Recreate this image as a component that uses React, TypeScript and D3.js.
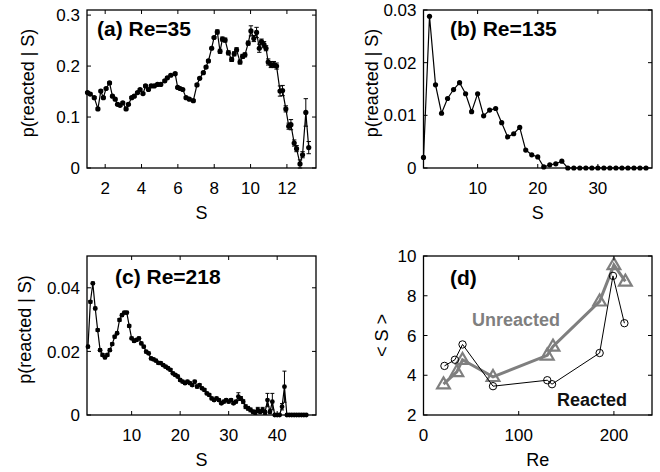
import React from 'react';
import * as d3 from 'd3';

const FONT = '"Liberation Sans", Arial, Helvetica, sans-serif';

// ---------- Panel (a) Re=35 ----------
const S_A = [1.03,1.18,1.40,1.60,1.76,1.90,2.05,2.24,2.40,2.55,2.68,2.82,2.97,3.15,3.28,3.46,3.60,3.78,3.92,4.08,4.22,4.38,4.53,4.70,4.88,5.06,5.28,5.42,5.61,5.85,5.99,6.12,6.27,6.45,6.63,6.85,7.05,7.20,7.40,7.55,7.68,7.86,7.99,8.17,8.32,8.45,8.60,8.78,8.96,9.10,9.23,9.42,9.56,9.69,9.87,10.02,10.18,10.33,10.48,10.60,10.74,10.85,10.97,11.12,11.28,11.43,11.62,11.76,11.94,12.10,12.22,12.40,12.53,12.72,12.86,13.04,13.20];
const P_A = [0.148,0.145,0.138,0.116,0.151,0.138,0.156,0.167,0.141,0.135,0.125,0.123,0.128,0.116,0.125,0.138,0.141,0.148,0.154,0.146,0.161,0.154,0.161,0.161,0.164,0.164,0.171,0.177,0.182,0.185,0.158,0.156,0.154,0.138,0.135,0.132,0.163,0.176,0.187,0.198,0.210,0.235,0.256,0.267,0.229,0.253,0.251,0.226,0.213,0.224,0.232,0.208,0.219,0.222,0.245,0.269,0.254,0.266,0.235,0.248,0.242,0.235,0.208,0.203,0.203,0.200,0.151,0.152,0.116,0.082,0.085,0.049,0.038,0.008,0.026,0.109,0.040];
const E_A = [0.002,0.002,0.002,0.002,0.002,0.002,0.002,0.002,0.002,0.002,0.002,0.002,0.002,0.002,0.002,0.002,0.002,0.002,0.002,0.002,0.002,0.002,0.002,0.002,0.002,0.002,0.002,0.002,0.002,0.002,0.002,0.002,0.002,0.002,0.002,0.002,0.002,0.002,0.002,0.002,0.002,0.002,0.002,0.004,0.004,0.004,0.004,0.004,0.004,0.004,0.004,0.004,0.004,0.004,0.004,0.010,0.006,0.010,0.008,0.005,0.006,0.005,0.006,0.006,0.006,0.006,0.010,0.010,0.006,0.006,0.010,0.006,0.006,0.008,0.006,0.027,0.012];
const XT_A = [2, 4, 6, 8, 10, 12];
const YT_A = [0, 0.1, 0.2, 0.3];
const YL_A = ['0', '0.1', '0.2', '0.3'];

// ---------- Panel (b) Re=135 ----------
const S_B = [1,2,3,4,5,6,7,8,9,10,11,12,13,14,15,16,17,18,19,20,21,22,23,24,25,26,27,28,29,30,31,32,33,34,35,36,37,38];
const P_B = [0.002,0.0288,0.0158,0.0104,0.0132,0.0149,0.0162,0.0141,0.0107,0.0141,0.0099,0.0110,0.0113,0.0086,0.0059,0.0065,0.0077,0.0034,0.0025,0.0021,0.0002,0.0006,0.0008,0.0013,0,0,0,0,0,0,0,0,0,0,0,0,0,0];
const XT_B = [10, 20, 30];
const YT_B = [0, 0.01, 0.02, 0.03];
const YL_B = ['0', '0.01', '0.02', '0.03'];

// ---------- Panel (c) Re=218 ----------
const S_C = [1,1.5,2,2.5,3,3.5,4,4.5,5,5.5,6,6.5,7,7.5,8,8.5,9,9.5,10,10.5,11,11.5,12,12.5,13,13.5,14,14.5,15,15.5,16,16.5,17,17.5,18,18.5,19,19.5,20,20.5,21,21.5,22,22.5,23,23.5,24,24.5,25,25.5,26,26.5,27,27.5,28,28.5,29,29.5,30,30.5,31,31.5,32,32.5,33,33.5,34,34.5,35,35.5,36,36.5,37,37.5,38,38.5,39,39.5,40,40.5,41,41.5,42,42.5,43,43.5,44,44.5,45,45.5,46];
const P_C = [0.0215,0.0356,0.0414,0.0335,0.0267,0.0204,0.0189,0.0181,0.0189,0.0204,0.0223,0.0246,0.0257,0.0299,0.0314,0.0322,0.0322,0.0280,0.0241,0.0233,0.0236,0.0241,0.0225,0.0215,0.0199,0.0194,0.0178,0.0175,0.0171,0.0164,0.0163,0.0157,0.0152,0.0147,0.0142,0.0131,0.0126,0.0121,0.0110,0.0105,0.0100,0.0105,0.0100,0.0094,0.0105,0.0089,0.0094,0.0084,0.0079,0.0068,0.0063,0.0052,0.0047,0.0052,0.0047,0.0037,0.0042,0.0047,0.0042,0.0047,0.0037,0.0042,0.0058,0.0052,0.0042,0.0026,0.0021,0.0016,0.0010,0.0008,0.0016,0.0010,0.0016,0.0008,0.0047,0.0010,0.0042,0,0,0,0.0026,0.0089,0,0,0,0,0,0,0,0,0];
const E_C = [0.0004,0.0004,0.0004,0.0004,0.0004,0.0004,0.0004,0.0004,0.0004,0.0004,0.0004,0.0004,0.0004,0.0004,0.0004,0.0004,0.0004,0.0004,0.0004,0.0004,0.0004,0.0004,0.0004,0.0004,0.0004,0.0004,0.0004,0.0004,0.0004,0.0004,0.0004,0.0004,0.0004,0.0004,0.0004,0.0004,0.0004,0.0004,0.0004,0.0004,0.0004,0.0004,0.0004,0.0004,0.0004,0.0004,0.0004,0.0004,0.0004,0.0004,0.0004,0.0004,0.0004,0.0004,0.0004,0.0004,0.0004,0.0004,0.0004,0.0004,0.0004,0.0004,0.0012,0.0006,0.0006,0.0006,0.0006,0.0006,0.0006,0.0006,0.0008,0.0006,0.0008,0.0006,0.0021,0.0006,0.0026,0,0,0,0.0010,0.0049,0,0,0,0,0,0,0,0,0];
const XT_C = [10, 20, 30, 40];
const YT_C = [0, 0.02, 0.04];
const YL_C = ['0', '0.02', '0.04'];

// ---------- Panel (d) ----------
const RE_REACTED = [22, 33, 41, 73, 130, 135, 185, 199, 211];
const S_REACTED = [4.47, 4.78, 5.55, 3.45, 3.75, 3.55, 5.12, 9.0, 6.62];
const RE_UNREACTED = [21, 35, 41, 73, 130, 136, 185, 200, 212];
const S_UNREACTED = [3.55, 4.17, 4.78, 3.92, 5.0, 5.45, 7.72, 9.55, 8.72];
const XT_D = [0, 100, 200];
const YT_D = [2, 4, 6, 8, 10];

const GRAY = '#7f7f7f';

type Sc = d3.ScaleLinear<number, number>;

function Frame(props: {
  xs: Sc; ys: Sc; xTicks: number[]; xLabels: string[]; yTicks: number[]; yLabels: string[];
  xTitle: string; yTitle: string; yTitleX: number; yTitleDy?: number;
}) {
  const { xs, ys, xTicks, xLabels, yTicks, yLabels, xTitle, yTitle, yTitleX, yTitleDy = 0 } = props;
  const [x0, x1] = xs.range();
  const [y1, y0] = ys.range();
  const tl = 4;
  const cx = (x0 + x1) / 2;
  const cy = (y0 + y1) / 2 + yTitleDy;
  return (
    <g fontFamily={FONT} fontSize={17} fill="#000">
      {xTicks.map((t, i) => {
        const x = xs(t);
        return (
          <g key={'x' + i}>
            <line x1={x} x2={x} y1={y1} y2={y1 - tl} stroke="#000" strokeWidth={1} />
            <line x1={x} x2={x} y1={y0} y2={y0 + tl} stroke="#000" strokeWidth={1} />
            <text x={x} y={y1 + 26} textAnchor="middle">{xLabels[i]}</text>
          </g>
        );
      })}
      {yTicks.map((t, i) => {
        const y = ys(t);
        return (
          <g key={'y' + i}>
            <line x1={x0} x2={x0 + tl} y1={y} y2={y} stroke="#000" strokeWidth={1} />
            <line x1={x1} x2={x1 - tl} y1={y} y2={y} stroke="#000" strokeWidth={1} />
            <text x={x0 - 7} y={y} dy="0.36em" textAnchor="end">{yLabels[i]}</text>
          </g>
        );
      })}
      <rect x={x0} y={y0} width={x1 - x0} height={y1 - y0} fill="none" stroke="#000" strokeWidth={1.3} />
      <text x={cx} y={y1 + 51} textAnchor="middle" fontSize={18}>{xTitle}</text>
      <text transform={`translate(${yTitleX},${cy}) rotate(-90)`} textAnchor="middle" fontSize={18}>{yTitle}</text>
    </g>
  );
}

function Series(props: { xs: Sc; ys: Sc; sx: number[]; sy: number[]; err?: number[]; r: number; cap: number }) {
  const { xs, ys, sx, sy, err, r, cap } = props;
  const pts = sx.map((s, i) => [s, sy[i]] as [number, number]);
  const line = d3.line<[number, number]>().x(d => xs(d[0])).y(d => ys(d[1]));
  return (
    <g>
      <path d={line(pts) || ''} fill="none" stroke="#000" strokeWidth={1.2} />
      {err && pts.map((p, i) => {
        const e = err[i];
        if (!e) return null;
        const x = xs(p[0]);
        const ya = ys(p[1] + e);
        const yb = ys(Math.max(0, p[1] - e));
        return (
          <g key={'e' + i} stroke="#000" strokeWidth={1}>
            <line x1={x} x2={x} y1={ya} y2={yb} />
            <line x1={x - cap} x2={x + cap} y1={ya} y2={ya} />
            <line x1={x - cap} x2={x + cap} y1={yb} y2={yb} />
          </g>
        );
      })}
      {pts.map((p, i) => (
        <circle key={'m' + i} cx={xs(p[0])} cy={ys(p[1])} r={r} fill="#000" />
      ))}
    </g>
  );
}

const LX0 = 87, LX1 = 316, RX0 = 423.5, RX1 = 652;
const TY0 = 10, TY1 = 168, BY0 = 256, BY1 = 415;

export default function App() {
  const xa = d3.scaleLinear().domain([1, 13.6]).range([LX0, LX1]);
  const ya = d3.scaleLinear().domain([0, 0.31]).range([TY1, TY0]);
  const xb = d3.scaleLinear().domain([1, 39]).range([RX0, RX1]);
  const yb = d3.scaleLinear().domain([0, 0.03]).range([TY1, TY0]);
  const xc = d3.scaleLinear().domain([0.8, 48]).range([LX0, LX1]);
  const yc = d3.scaleLinear().domain([0, 0.05]).range([BY1, BY0]);
  const xd = d3.scaleLinear().domain([0, 240]).range([RX0, RX1]);
  const yd = d3.scaleLinear().domain([2, 10]).range([BY1, BY0]);

  const lineD = d3.line<[number, number]>().x(d => xd(d[0])).y(d => yd(d[1]));
  const unr = RE_UNREACTED.map((r, i) => [r, S_UNREACTED[i]] as [number, number]);
  const rea = RE_REACTED.map((r, i) => [r, S_REACTED[i]] as [number, number]);
  const tri = (x: number, y: number, s: number) =>
    `M${x},${y - s * 0.62}L${x + s * 0.58},${y + s * 0.38}L${x - s * 0.58},${y + s * 0.38}Z`;

  return (
    <svg width={660} height={472} style={{ position: 'absolute', left: 0, top: 0, background: '#fff' }}
      fontFamily={FONT}>
      <rect x={0} y={0} width={660} height={472} fill="#fff" />

      {/* (a) */}
      <Series xs={xa} ys={ya} sx={S_A} sy={P_A} err={E_A} r={2.6} cap={2.2} />
      <Frame xs={xa} ys={ya} xTicks={XT_A} xLabels={XT_A.map(String)} yTicks={YT_A} yLabels={YL_A}
        xTitle="S" yTitle="p(reacted | S)" yTitleX={34} yTitleDy={-6} />
      <text x={97} y={36} fontSize={21} fontWeight="bold" fontFamily={FONT}>(a) Re=35</text>

      {/* (b) */}
      <Series xs={xb} ys={yb} sx={S_B} sy={P_B} r={2.6} cap={2} />
      <Frame xs={xb} ys={yb} xTicks={XT_B} xLabels={XT_B.map(String)} yTicks={YT_B} yLabels={YL_B}
        xTitle="S" yTitle="p(reacted | S)" yTitleX={378} yTitleDy={-6} />
      <text x={450} y={36} fontSize={21} fontWeight="bold" fontFamily={FONT}>(b) Re=135</text>

      {/* (c) */}
      <Series xs={xc} ys={yc} sx={S_C} sy={P_C} err={E_C} r={2.4} cap={2} />
      <Frame xs={xc} ys={yc} xTicks={XT_C} xLabels={XT_C.map(String)} yTicks={YT_C} yLabels={YL_C}
        xTitle="S" yTitle="p(reacted | S)" yTitleX={31} yTitleDy={-6} />
      <text x={115} y={284} fontSize={21} fontWeight="bold" fontFamily={FONT}>(c) Re=218</text>

      {/* (d) */}
      <path d={lineD(unr) || ''} fill="none" stroke={GRAY} strokeWidth={3} />
      {unr.map((p, i) => (
        <path key={'t' + i} d={tri(xd(p[0]), yd(p[1]), 11)} fill="none" stroke={GRAY} strokeWidth={2.2} />
      ))}
      <path d={lineD(rea) || ''} fill="none" stroke="#000" strokeWidth={1} />
      {rea.map((p, i) => (
        <circle key={'c' + i} cx={xd(p[0])} cy={yd(p[1])} r={3.7} fill="none" stroke="#000" strokeWidth={1} />
      ))}
      <Frame xs={xd} ys={yd} xTicks={XT_D} xLabels={XT_D.map(String)} yTicks={YT_D} yLabels={YT_D.map(String)}
        xTitle="Re" yTitle="< S >" yTitleX={388} />
      <text x={450} y={285} fontSize={21} fontWeight="bold" fontFamily={FONT}>(d)</text>
      <text x={472} y={326} fontSize={18} fontWeight="bold" fill={GRAY} fontFamily={FONT}>Unreacted</text>
      <text x={557} y={406} fontSize={18} fontWeight="bold" fill="#111" fontFamily={FONT}>Reacted</text>
    </svg>
  );
}
